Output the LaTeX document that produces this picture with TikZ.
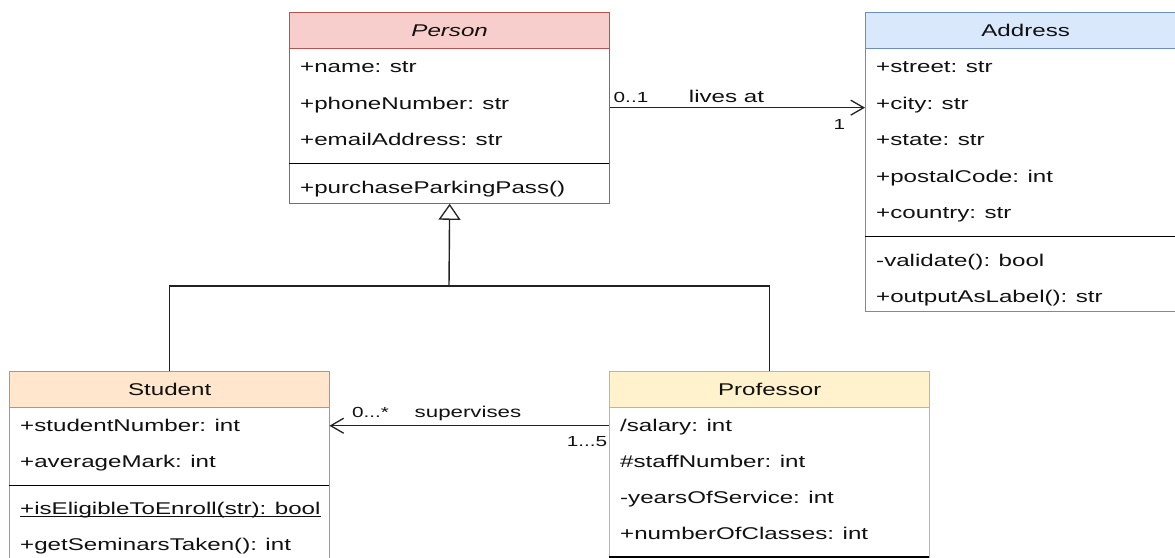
\documentclass[tikz,border=0pt]{standalone}
\usepackage{fontspec}
\setmainfont[FakeStretch=1.42]{Liberation Sans}
\usetikzlibrary{arrows.meta}

\definecolor{personfill}{HTML}{F8CECC}
\definecolor{personline}{HTML}{B85450}
\definecolor{addrfill}{HTML}{DAE8FC}
\definecolor{addrline}{HTML}{6C8EBF}
\definecolor{studfill}{HTML}{FFE6CC}
\definecolor{studline}{HTML}{D79B00}
\definecolor{proffill}{HTML}{FFF2CC}
\definecolor{profline}{HTML}{D6B656}
\definecolor{ink}{HTML}{111111}
\definecolor{wire}{HTML}{222222}

% UML member font and static-member underline
\newcommand\umlfont{\fontsize{17}{20}\selectfont}
\newcommand\umlul[1]{\setbox0\hbox{#1}\rlap{\rule[-2.4pt]{\wd0}{0.9pt}}\box0}

\tikzset{
  every node/.style={font=\umlfont, text=ink},
  classbox/.style={draw=#1, line width=1.3pt, minimum width=320pt, inner sep=0pt,
    anchor=north west, fill=white},
  classhead/.style={draw=#1, line width=1.3pt, minimum width=320pt, inner sep=0pt,
    anchor=north west, text height=13.5pt, text depth=1.8pt},
  member/.style={minimum width=320pt, minimum height=#1, inner xsep=11pt, inner ysep=0pt,
    text width=298pt, align=left, anchor=north west, text height=13.5pt, text depth=1.8pt},
  gap/.style={minimum width=320pt, minimum height=11pt, inner sep=0pt, anchor=north west},
  divider/.style={draw=black, line width=1.3pt},
  conn/.style={draw=wire, line width=1.4pt},
  assoc/.style={conn, -{Straight Barb[length=13pt, width=15pt, line width=1.3pt]}},
  inherit/.style={conn, -{Triangle[open, length=16pt, width=22pt, line width=1.3pt]}},
  mult/.style={font=\fontsize{14.6}{16}\selectfont, inner sep=0pt, anchor=base},
  edgetext/.style={font=\fontsize{#1}{18}\selectfont, inner sep=0pt, anchor=base},
}

\begin{document}
\begin{tikzpicture}[x=1pt, y=-1pt]
\clip (0,0) rectangle (1175,557);
\fill[white] (0,0) rectangle (1175,557);

% ---------- Person ----------
\node[classbox=personline, minimum height=191pt] (person) at (289,11.5) {};
\node[classhead=personline, fill=personfill, minimum height=36pt, font=\umlfont\itshape]
  (person-h) at (289,11.5) {Person};
\node[member=36pt] (p1) at (person-h.south west) {+name: str};
\node[member=36pt] (p2) at (p1.south west) {+phoneNumber: str};
\node[member=36pt] (p3) at (p2.south west) {+emailAddress: str};
\node[gap] (p-gap) at (p3.south west) {};
\draw[divider] (p-gap.west) -- (p-gap.east);
\node[member=36pt] (p4) at (p-gap.south west) {+purchaseParkingPass()};

% ---------- Address ----------
\node[classbox=addrline, minimum height=299pt] (address) at (865,11.5) {};
\node[classhead=addrline, fill=addrfill, minimum height=36pt] (address-h) at (865,11.5) {Address};
\node[member=36pt] (a1) at (address-h.south west) {+street: str};
\node[member=36pt] (a2) at (a1.south west) {+city: str};
\node[member=36pt] (a3) at (a2.south west) {+state: str};
\node[member=36pt] (a4) at (a3.south west) {+postalCode: int};
\node[member=36pt] (a5) at (a4.south west) {+country: str};
\node[gap] (a-gap) at (a5.south west) {};
\draw[divider] (a-gap.west) -- (a-gap.east);
\node[member=36pt] (a6) at (a-gap.south west) {-validate(): bool};
\node[member=36pt] (a7) at (a6.south west) {+outputAsLabel(): str};

% ---------- Student ----------
\node[classbox=studline, minimum height=188.5pt] (student) at (9,371) {};
\node[classhead=studline, fill=studfill, minimum height=35.5pt] (student-h) at (9,371) {Student};
\node[member=35.5pt] (s1) at (student-h.south west) {+studentNumber: int};
\node[member=35.5pt] (s2) at (s1.south west) {+averageMark: int};
\node[gap] (s-gap) at (s2.south west) {};
\draw[divider] (s-gap.west) -- (s-gap.east);
\node[member=35.5pt] (s3) at (s-gap.south west) {\umlul{+isEligibleToEnroll(str): bool}};
\node[member=35.5pt] (s4) at (s3.south west) {+getSeminarsTaken(): int};

% ---------- Professor ----------
\node[classbox=profline, minimum height=210pt] (professor) at (609,371) {};
\node[classhead=profline, fill=proffill, minimum height=35.5pt] (professor-h) at (609,371) {Professor};
\node[member=35.5pt] (r1) at (professor-h.south west) {/salary: int};
\node[member=35.5pt] (r2) at (r1.south west) {\#staffNumber: int};
\node[member=35.5pt] (r3) at (r2.south west) {-yearsOfService: int};
\node[member=35.5pt] (r4) at (r3.south west) {+numberOfClasses: int};
\node[gap] (r-gap) at (r4.south west) {};
\draw[divider] (r-gap.west) -- (r-gap.east);

% ---------- Generalisation ----------
\coordinate (fork) at (449,286);
\draw[conn] (student-h.north) |- (fork);
\draw[conn] (professor-h.north) |- (fork);
\draw[inherit] (fork) -- (person.south);

% ---------- Associations ----------
\draw[assoc] (person.east) -- (person.east -| address.west);
\node[mult] (m-person) at (631,102) {0..1};
\node[edgetext=17] (l-lives) at (726.5,102) {lives at};
\node[mult] (m-address) at (839.5,129.5) {1};

\draw[assoc] (r1.west) -- (s1.east);
\node[mult] (m-student) at (370.5,417) {0...*};
\node[edgetext=15.7] (l-supervises) at (468,417) {supervises};
\node[mult] (m-professor) at (587,446) {1...5};
\end{tikzpicture}
\end{document}
